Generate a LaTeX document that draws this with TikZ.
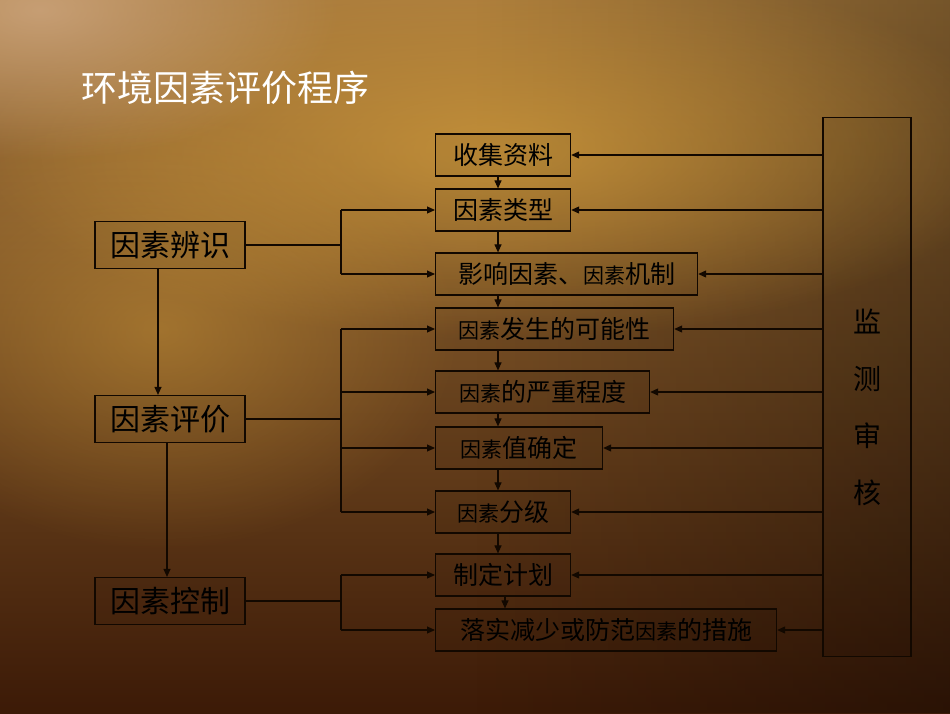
\documentclass[tikz,border=0pt]{standalone}
\usepackage{fontspec}
\setmainfont{Noto Sans CJK SC}
\usepackage{tikz}
\usetikzlibrary{positioning,arrows.meta,fadings}
\definecolor{bgtop}{HTML}{A87A3C}
\definecolor{bgmid}{HTML}{7A4616}
\definecolor{bgbot}{HTML}{3C1A07}
\definecolor{gold}{HTML}{D6A03C}
\definecolor{pinkish}{HTML}{D4AE8C}
\definecolor{ink}{HTML}{120800}
\tikzfading[name=softglow,inner color=transparent!0,outer color=transparent!100]
\newcommand{\ys}[1]{{\fontsize{21}{21}\selectfont #1}}

\begin{document}
\begin{tikzpicture}[x=1pt,y=-1pt,>={Triangle[length=8pt,width=7pt]},
	box/.style={draw=ink,line width=1.2pt,fill=black,fill opacity=0.05,text opacity=1,
		minimum height=42pt,inner sep=0pt,anchor=west,font=\fontsize{25}{25}\selectfont},
	stage/.style={box,anchor=center,minimum width=150pt,minimum height=47pt,
		font=\fontsize{30}{30}\selectfont},
	link/.style={draw=ink,line width=1.1pt}]

   % background
   \useasboundingbox (0,0) rectangle (950,713);
   \begin{scope}
   \clip (0,0) rectangle (950,713);
   \shade[top color=bgtop,middle color=bgmid,bottom color=bgbot] (0,0) rectangle (950,713);
   \fill[black,path fading=west,opacity=0.3] (475,0) rectangle (950,713);
   \fill[gold,path fading=softglow,opacity=0.7] (500,150) ellipse (520 and 190);
   \fill[gold,path fading=softglow,opacity=0.45] (160,330) ellipse (300 and 220);
   \fill[pinkish,path fading=softglow,opacity=0.7] (40,10) ellipse (300 and 150);
   \end{scope}

   \node[text=white,anchor=west,font=\fontsize{36}{36}\selectfont] (title) at (78,88) {环境因素评价程序};

   \node[stage] (bianshi) at (170,245) {因素辨识};
   \node[stage] (pingjia) at (170,419) {因素评价};
   \node[stage] (kongzhi) at (170,601) {因素控制};

   \node[box,minimum width=135pt] (shouji)    at (435,155) {收集资料};
   \node[box,minimum width=135pt] (leixing)   at (435,210) {因素类型};
   \node[box,minimum width=262pt] (yingxiang) at (435,274) {影响因素、\ys{因素}机制};
   \node[box,minimum width=238pt] (fasheng)   at (435,329) {\ys{因素}发生的可能性};
   \node[box,minimum width=214pt] (yanzhong)  at (435,392) {\ys{因素}的严重程度};
   \node[box,minimum width=167pt] (queding)   at (435,448) {\ys{因素}值确定};
   \node[box,minimum width=135pt] (fenji)     at (435,512) {\ys{因素}分级};
   \node[box,minimum width=135pt] (zhiding)   at (435,575) {制定计划};
   \node[box,minimum width=341pt] (luoshi)    at (435,630) {落实减少或防范\ys{因素}的措施};

   \node[box,anchor=center,minimum width=88pt,minimum height=539pt] (jiance) at (867,387) {};
   \node[align=center,font=\fontsize{28}{57}\selectfont] (jctext) at ([yshift=-20pt]jiance.center) {监\\测\\审\\核};

   \coordinate (brk) at (341,0);
   \coordinate (col) at (498,0);

   \draw[link,->] ([xshift=-12pt]bianshi.south) -- ([xshift=-12pt]pingjia.north);
   \draw[link,->] ([xshift=-3pt]pingjia.south) -- ([xshift=-3pt]kongzhi.north);

   \draw[link] (bianshi.east) -- (bianshi.east -| brk)
               (brk |- leixing.west) -- (brk |- yingxiang.west);
   \draw[link] (pingjia.east) -- (pingjia.east -| brk)
               (brk |- fasheng.west) -- (brk |- fenji.west);
   \draw[link] (kongzhi.east) -- (kongzhi.east -| brk)
               (brk |- zhiding.west) -- (brk |- luoshi.west);
   \foreach \b in {leixing,yingxiang,fasheng,yanzhong,queding,fenji,zhiding,luoshi}
      \draw[link,->] (brk |- \b.west) -- (\b.west);

   \foreach \a/\b in {shouji/leixing,leixing/yingxiang,yingxiang/fasheng,fasheng/yanzhong,
                      yanzhong/queding,queding/fenji,fenji/zhiding}
      \draw[link,->] (\a.south -| col) -- (\b.north -| col);
   \draw[link,->] ([xshift=70pt]zhiding.south west) -- ([xshift=70pt]luoshi.north west);

   \foreach \b in {shouji,leixing,yingxiang,fasheng,yanzhong,queding,fenji,zhiding,luoshi}
      \draw[link,->] (jiance.west |- \b.east) -- (\b.east);
\end{tikzpicture}
\end{document}
